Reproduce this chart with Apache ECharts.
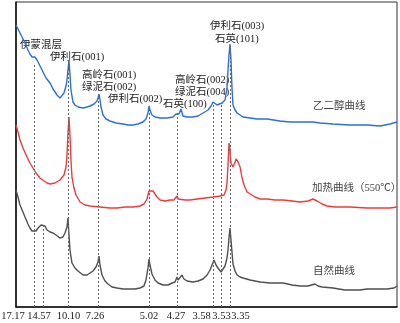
<!DOCTYPE html>
<html><head><meta charset="utf-8">
<script src="https://cdn.jsdelivr.net/npm/echarts@6/dist/echarts.min.js"></script>
<style>html,body{margin:0;padding:0;background:#fff}#c{width:400px;height:323px}</style>
</head><body><div id="c"></div>
<script>
// d-spacing tick labels (Å) and their 2θ positions
const dLabels = ['17.17','14.57','10.10','7.26','5.02','4.27','3.58','3.53','3.35'];
const peakPos = [5.04, 5.98, 8.79, 12.10, 17.66, 20.81, 24.78, 25.66, 26.65];
const peakTop = [244, 84, 247, 212, 199, 194, 204, 204, 261];

// curves: [2θ, relative intensity]
const glycolCurve = [[3.00,282],[3.22,278],[3.44,274],[3.66,270],[3.99,264],[4.32,257],[4.54,253],[4.76,250],[4.98,249],[5.09,250],[5.21,249],[5.32,247],[5.65,241],[5.98,235],[6.31,229],[6.75,224],[7.08,218],[7.52,212],[7.85,209],[8.07,210],[8.29,214],[8.51,221],[8.62,227],[8.73,237],[8.84,247],[8.95,232],[9.06,217],[9.28,205],[9.50,202],[9.84,200],[10.39,199],[10.83,200],[11.16,201],[11.60,203],[11.93,206],[12.04,209],[12.15,213],[12.26,207],[12.37,200],[12.59,192],[12.92,188],[13.36,186],[14.03,184],[14.80,183],[15.35,182],[15.90,182],[16.45,183],[17.00,185],[17.33,188],[17.55,194],[17.66,201],[17.77,197],[17.99,192],[18.32,190],[18.88,189],[19.65,189],[20.31,190],[20.64,193],[20.86,195],[20.97,193],[21.19,198],[21.41,191],[21.85,190],[22.51,190],[23.07,191],[23.62,194],[24.17,197],[24.50,201],[24.72,205],[24.94,204],[25.16,202],[25.38,203],[25.71,204],[26.04,207],[26.26,219],[26.37,237],[26.48,252],[26.59,263],[26.70,247],[26.81,219],[26.92,202],[27.15,197],[27.37,194],[27.70,192],[28.03,190],[28.80,189],[29.57,188],[30.67,188],[32.11,186],[33.21,185],[34.31,185],[35.75,185],[36.52,184],[37.95,183],[39.82,182],[41.70,182],[43.13,181],[44.23,183],[45.00,185]];
const heatCurve = [[3.00,182],[3.22,175],[3.44,167],[3.77,159],[4.21,150],[4.54,144],[4.87,139],[5.21,134],[5.65,129],[6.09,126],[6.42,124],[6.75,123],[6.97,122],[7.30,124],[7.52,125],[7.85,127],[8.07,129],[8.29,132],[8.51,140],[8.62,152],[8.73,174],[8.84,190],[8.95,172],[9.06,147],[9.17,130],[9.39,119],[9.62,112],[10.06,105],[10.61,102],[11.16,101],[12.26,100],[13.36,99],[14.14,99],[15.02,100],[15.90,100],[16.67,101],[17.11,103],[17.44,108],[17.66,116],[17.88,118],[18.10,116],[18.32,113],[18.55,110],[18.88,107],[19.43,106],[19.98,107],[20.42,107],[20.64,109],[20.75,111],[20.86,108],[21.08,106],[21.63,107],[22.18,107],[22.96,108],[23.84,109],[24.72,110],[25.49,111],[25.93,112],[26.15,117],[26.26,124],[26.37,142],[26.48,164],[26.59,157],[26.70,144],[26.92,140],[27.15,145],[27.26,148],[27.48,145],[27.70,140],[27.92,129],[28.14,122],[28.47,115],[28.80,113],[29.35,110],[29.90,108],[30.67,108],[31.56,107],[32.44,107],[33.43,106],[34.31,105],[35.19,106],[35.75,108],[36.19,106],[36.74,103],[37.29,101],[38.17,100],[39.82,100],[41.70,99],[43.13,99],[44.23,99],[45.00,100]];
const naturalCurve = [[3.00,117],[3.22,110],[3.44,102],[3.77,95],[3.99,90],[4.32,83],[4.54,79],[4.76,76],[4.98,75],[5.21,76],[5.43,79],[5.76,82],[5.98,84],[6.20,81],[6.42,77],[6.75,75],[7.08,74],[7.41,72],[7.85,69],[8.18,70],[8.40,74],[8.62,80],[8.73,89],[8.84,72],[8.95,57],[9.17,44],[9.50,39],[9.84,36],[10.39,32],[10.83,32],[11.16,34],[11.49,36],[11.82,40],[12.04,45],[12.15,51],[12.26,42],[12.48,32],[12.81,26],[13.14,23],[13.58,20],[14.14,19],[14.80,18],[15.57,18],[16.12,18],[16.67,19],[17.11,21],[17.33,27],[17.55,39],[17.66,48],[17.77,42],[17.99,33],[18.32,27],[18.66,24],[19.21,22],[19.76,22],[20.20,24],[20.53,25],[20.75,30],[20.86,27],[21.08,27],[21.30,32],[21.52,28],[21.85,26],[22.51,25],[23.07,26],[23.62,28],[24.06,32],[24.39,37],[24.61,42],[24.83,47],[25.05,42],[25.27,39],[25.60,35],[25.82,37],[26.04,41],[26.26,49],[26.37,57],[26.48,69],[26.59,79],[26.70,67],[26.81,55],[26.92,43],[27.15,36],[27.37,32],[27.70,30],[28.03,29],[28.80,27],[29.90,25],[31.00,24],[32.44,24],[33.43,22],[34.31,21],[35.19,21],[35.97,23],[36.30,21],[36.74,20],[37.95,19],[39.27,17],[39.82,17],[40.92,17],[41.70,18],[42.80,18],[43.90,18],[44.67,19],[45.00,21]];

// text annotations
const annotations = [
  ['伊蒙混层', 20, 46], ['伊利石(001)', 50, 58], ['高岭石(001)', 82, 76], ['绿泥石(002)', 82, 88],
  ['伊利石(002)', 108, 100], ['石英(100)', 163, 105], ['高岭石(002)', 175, 81], ['绿泥石(004)', 175, 93],
  ['伊利石(003)', 210, 27], ['石英(101)', 215, 40]
];
const curveNames = [['乙二醇曲线', 313, 107], ['加热曲线（550℃）', 312, 189], ['自然曲线', 313, 272]];

const labelShift = [-21.5, -4, 0, -3.5, 0, -1.5, -12, 0, 10];
const FONT = '"Liberation Serif", "Noto Sans CJK SC", serif';

const rich = {};
labelShift.forEach((s, i) => {
  rich['p' + i] = { padding: s < 0 ? [0, -2 * s, 0, 0] : [0, 0, 0, 2 * s], fontFamily: FONT, fontSize: 10.5, color: '#222' };
});

const chart = echarts.init(document.getElementById('c'), null, { renderer: 'canvas' });
const lineSeries = (name, data, color) => ({
  name, type: 'line', data, symbol: 'none', showSymbol: false, smooth: false,
  lineStyle: { color, width: 1.4 }, animation: false, z: 3
});

chart.setOption({
  backgroundColor: '#fff',
  animation: false,
  grid: { left: 16, right: 3, top: 2, bottom: 16, containLabel: false, outerBoundsMode: 'none',
          show: true, borderColor: '#333', borderWidth: 1 },
  xAxis: {
    type: 'value', min: 3, max: 45,
    axisLine: { show: true, lineStyle: { color: '#111', width: 1.5 } },
    axisTick: { show: false },
    splitLine: { show: false },
    axisLabel: {
      customValues: peakPos, hideOverlap: false, margin: 4,
      formatter: (v) => { const i = peakPos.indexOf(v); return i < 0 ? '' : '{p' + i + '|' + dLabels[i] + '}'; },
      rich
    }
  },
  yAxis: {
    type: 'value', min: 0, max: 305,
    axisLine: { show: true, lineStyle: { color: '#111', width: 1.5 } },
    axisTick: { show: false }, axisLabel: { show: false }, splitLine: { show: false }
  },
  series: [
    lineSeries('乙二醇曲线', glycolCurve, '#2d6fdc'),
    lineSeries('加热曲线', heatCurve, '#ef3b3b'),
    Object.assign(lineSeries('自然曲线', naturalCurve, '#505050'), {
      markLine: {
        silent: true, symbol: 'none', animation: false, label: { show: false },
        lineStyle: { color: '#666', type: [2, 2], width: 1 },
        data: peakPos.map((p, i) => [{ coord: [p, 0] }, { coord: [p, peakTop[i]] }])
      }
    })
  ],
  graphic: annotations.map(a => ({
    type: 'text', left: a[1], top: a[2] - 6, silent: true,
    style: { text: a[0], font: '10.5px ' + FONT, fill: '#222' }
  })).concat(curveNames.map(a => ({
    type: 'text', left: a[1], top: a[2] - 6, silent: true,
    style: { text: a[0], font: '10.5px ' + FONT, fill: '#444' }
  })))
});
</script></body></html>
